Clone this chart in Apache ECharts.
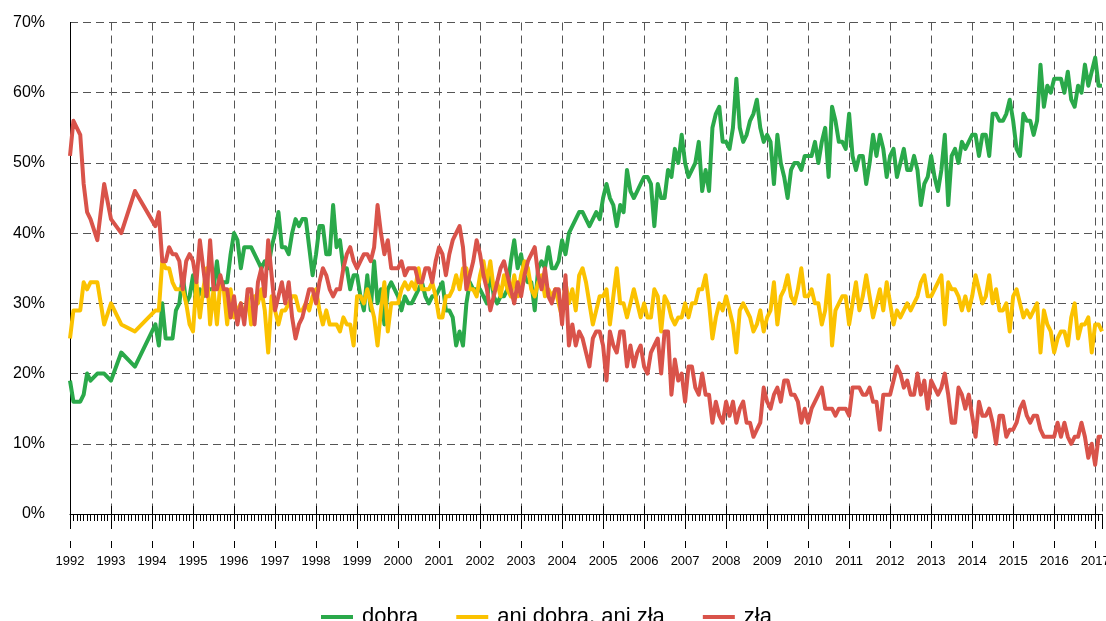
<!DOCTYPE html>
<html>
<head>
<meta charset="utf-8">
<title>Ocena sytuacji</title>
<script src="https://cdn.jsdelivr.net/npm/echarts@6/dist/echarts.min.js"></script>
<style>
  html, body { margin: 0; padding: 0; background: #fff; }
  #chart { width: 1106px; height: 621px; }
</style>
</head>
<body>
<div id="chart"></div>
<script>
  // x = months counted from January 1992
  const FIRST_YEAR = 1992
  const LAST_MONTH = 302

  // before 1994 the surveys were not monthly
  const earlyMonths = [0, 1, 3, 4, 5, 6, 8, 10, 12, 15, 19]
  const dobraEarly = [19, 16, 16, 17, 20, 19, 20, 20, 19, 23, 21]
  const aniEarly = [25, 29, 29, 33, 32, 33, 33, 27, 30, 27, 26]
  const zlaEarly = [51, 56, 54, 47, 43, 42, 39, 47, 42, 40, 46]

  // monthly from February 1994 (month 25), one row per year
  const monthlyStart = 25
  const dobraMonthly = [
    27, 24, 30, 25, 25, 25, 29, 30, 34, 30, 31,
    34, 30, 32, 31, 32, 32, 32, 36, 32, 33, 33, 37,
    40, 39, 35, 38, 38, 38, 37, 36, 35, 36, 35, 38,
    40, 43, 38, 38, 37, 40, 42, 41, 42, 42, 38, 34,
    37, 41, 41, 37, 37, 44, 38, 39, 35, 35, 32, 34,
    34, 31, 29, 34, 29, 36, 30, 32, 27, 32, 33, 32,
    31, 29, 31, 30, 30, 31, 32, 33, 31, 30, 31, 31,
    32, 33, 29, 29, 28, 24, 26, 24, 30, 33, 32, 32,
    32, 31, 30, 35, 31, 30, 31, 31, 32, 36, 39, 35,
    37, 34, 33, 33, 29, 35, 36, 35, 38, 35, 35, 36,
    39, 37, 40, 41, 42, 43, 43, 42, 41, 42, 43, 42,
    45, 47, 45, 44, 41, 44, 43, 49, 46, 45, 46, 47,
    48, 48, 47, 41, 47, 45, 45, 49, 48, 52, 50, 54,
    50, 48, 49, 50, 53, 46, 49, 46, 55, 57, 58, 53,
    53, 52, 55, 62, 55, 53, 54, 56, 57, 59, 55, 53,
    54, 53, 47, 54, 50, 48, 45, 49, 50, 50, 49, 51,
    51, 51, 53, 50, 53, 55, 48, 58, 56, 53, 53, 52,
    57, 51, 49, 51, 51, 47, 50, 54, 51, 54, 52, 48,
    51, 52, 48, 50, 52, 49, 49, 51, 49, 44, 47, 48,
    51, 48, 46, 49, 54, 44, 51, 52, 50, 53, 52, 53,
    54, 54, 51, 54, 54, 51, 57, 57, 56, 56, 57, 59,
    56, 52, 51, 57, 56, 56, 54, 56, 64, 58, 61, 60,
    62, 62, 62, 60, 63, 59, 58, 61, 60, 64, 61, 63,
    65, 61, 61
  ]
  const aniMonthly = [
    29, 29, 36, 35, 35, 33, 32, 32, 32, 30, 27,
    26, 33, 28, 32, 35, 27, 32, 27, 33, 32, 27, 32,
    28, 29, 30, 28, 31, 27, 31, 30, 32, 29, 23, 31,
    29, 27, 29, 29, 30, 31, 31, 29, 29, 30, 29, 31,
    32, 29, 27, 29, 27, 27, 27, 26, 28, 27, 27, 24,
    31, 31, 30, 32, 30, 28, 24, 29, 33, 26, 30, 30,
    30, 32, 33, 32, 33, 32, 35, 32, 32, 32, 33, 31,
    28, 28, 31, 31, 32, 34, 32, 35, 35, 32, 32, 31,
    34, 36, 33, 36, 32, 33, 31, 34, 32, 31, 34, 31,
    34, 36, 35, 32, 31, 33, 34, 31, 32, 31, 32, 30,
    28, 33, 30, 32, 29, 34, 35, 33, 30, 27, 29, 31,
    31, 32, 27, 31, 35, 30, 30, 28, 30, 32, 30, 28,
    30, 28, 28, 32, 31, 26, 31, 30, 28, 27, 28, 28,
    30, 28, 30, 30, 32, 32, 34, 30, 25, 28, 30, 29,
    31, 29, 27, 23, 29, 30, 29, 28, 26, 27, 29, 26,
    28, 29, 33, 27, 31, 32, 34, 31, 30, 32, 35, 31,
    31, 32, 30, 30, 27, 29, 34, 24, 29, 30, 31, 31,
    27, 30, 33, 29, 31, 34, 31, 28, 30, 32, 29, 33,
    30, 27, 29, 28, 29, 30, 29, 30, 31, 33, 34, 31,
    31, 32, 33, 34, 27, 33, 32, 32, 31, 29, 31, 29,
    31, 34, 32, 30, 31, 34, 30, 32, 29, 29, 30, 26,
    31, 32, 30, 28, 29, 28, 29, 30, 23, 29, 27, 26,
    23, 25, 26, 26, 24, 28, 30, 25, 27, 27, 28, 23,
    27, 27, 26
  ]
  const zlaMonthly = [
    41, 43, 36, 36, 38, 37, 37, 36, 32, 36, 37,
    36, 33, 39, 35, 31, 39, 32, 32, 34, 32, 32, 28,
    31, 27, 30, 27, 32, 32, 27, 33, 35, 31, 39, 34,
    29, 31, 33, 30, 33, 28, 25, 27, 28, 30, 32, 32,
    30, 33, 35, 34, 32, 31, 32, 32, 35, 37, 38, 36,
    35, 36, 37, 37, 36, 38, 44, 40, 37, 39, 35, 35,
    35, 36, 34, 35, 35, 35, 33, 33, 35, 35, 33, 36,
    38, 37, 34, 37, 39, 40, 41, 38, 32, 34, 36, 39,
    37, 34, 32, 29, 31, 33, 35, 36, 34, 32, 30, 33,
    31, 34, 36, 37, 38, 34, 32, 35, 31, 30, 32, 32,
    27, 34, 24, 27, 24, 26, 25, 23, 21, 25, 26, 26,
    24, 19, 26, 24, 23, 26, 26, 21, 24, 21, 23, 24,
    21, 20, 23, 24, 25, 20, 26, 26, 17, 22, 19, 20,
    16, 21, 21, 18, 17, 20, 17, 17, 13, 16, 14, 13,
    16, 14, 16, 13, 15, 16, 13, 13, 11, 12, 13, 18,
    16, 15, 17, 18, 16, 19, 19, 17, 17, 16, 13, 15,
    13, 15, 16, 17, 18, 15, 15, 15, 14, 15, 15, 15,
    14, 18, 18, 18, 17, 17, 18, 16, 16, 12, 17, 17,
    17, 19, 21, 20, 18, 19, 17, 17, 20, 17, 19, 15,
    19, 18, 17, 18, 20, 17, 13, 13, 18, 17, 15, 17,
    14, 11, 16, 14, 14, 15, 13, 10, 14, 14, 11, 12,
    12, 13, 15, 16, 14, 13, 14, 14, 12, 11, 11, 11,
    11, 13, 11, 13, 11, 10, 11, 11, 13, 11, 8, 10,
    7, 11, 11
  ]

  const seriesNames = ['dobra', 'ani dobra, ani zła', 'zła']
  const seriesColors = ['#2aa94a', '#fbc200', '#d9534a']

  const yearTicks = []
  for (let m = 0; m <= 300; m += 12) yearTicks.push(m)

  function toPoints(early, monthly) {
    const pts = earlyMonths.map((m, i) => [m, early[i]])
    monthly.forEach((v, i) => pts.push([monthlyStart + i, v]))
    return pts
  }
  const seriesData = [
    toPoints(dobraEarly, dobraMonthly),
    toPoints(aniEarly, aniMonthly),
    toPoints(zlaEarly, zlaMonthly)
  ]

  const font = '"Liberation Sans", Arial, sans-serif'
  const gridLine = { color: '#555', width: 1, type: [8, 5] }
  const black = { color: '#000', width: 1 }
  const hiddenLine = { show: true, onZero: false, lineStyle: { color: 'rgba(0,0,0,0)', width: 1 } }

  const baseX = {
    type: 'value',
    position: 'bottom',
    min: 0,
    max: LAST_MONTH,
    interval: 12,
    axisLine: hiddenLine,
    axisTick: { show: false },
    axisLabel: { show: false },
    splitLine: { show: false }
  }

  // short year marks: one piece above the axis line, one above the year label
  function renderYearMarks(params, api) {
    const p = api.coord([api.value(0), 0])
    const x = Math.round(p[0]) + 0.5
    const y = p[1]
    const style = { stroke: '#000', lineWidth: 1 }
    return {
      type: 'group',
      children: [
        { type: 'line', shape: { x1: x, y1: y - 8, x2: x, y2: y }, style: style },
        { type: 'line', shape: { x1: x, y1: y + 27, x2: x, y2: y + 34 }, style: style }
      ]
    }
  }

  const myChart = echarts.init(document.getElementById('chart'), null, { renderer: 'canvas' })
  const option = {
    animation: false,
    backgroundColor: '#fff',
    grid: { left: 70, right: 4, top: 22.5, bottom: 107, outerBoundsMode: 'none', containLabel: false },
    xAxis: [
      // main axis: line, year ticks, vertical dashed lines
      Object.assign({}, baseX, {
        axisLine: { show: true, onZero: false, lineStyle: black },
        axisTick: { show: true, length: 15, lineStyle: black },
        splitLine: { show: true, lineStyle: gridLine }
      }),
      // month ticks
      Object.assign({}, baseX, {
        interval: 1,
        axisTick: { show: true, length: 7, lineStyle: black }
      }),
      // year labels
      Object.assign({}, baseX, {
        offset: 27,
        axisLabel: {
          show: true,
          customValues: yearTicks,
          formatter: (v) => String(FIRST_YEAR + Math.round(v / 12)),
          fontSize: 13,
          fontFamily: font,
          color: '#000',
          margin: 14
        }
      })
    ],
    yAxis: [
      {
        type: 'value',
        min: 0,
        max: 70,
        interval: 10,
        axisLine: { show: true, lineStyle: black },
        axisTick: { show: false },
        axisLabel: {
          formatter: '{value}%',
          fontSize: 16,
          fontFamily: font,
          color: '#000',
          margin: 25
        },
        splitLine: { show: true, lineStyle: gridLine }
      },
      {
        type: 'value',
        position: 'right',
        min: 0,
        max: 70,
        axisLine: { show: true, lineStyle: black },
        axisTick: { show: false },
        axisLabel: { show: false },
        splitLine: { show: false }
      }
    ],
    legend: {
      data: seriesNames,
      left: 316,
      top: 601,
      icon: 'rect',
      itemWidth: 32,
      itemHeight: 4,
      itemGap: 38,
      textStyle: { fontSize: 22, fontFamily: font, color: '#000', padding: [0, 0, 0, 4] }
    },
    series: seriesNames.map((name, i) => ({
      name: name,
      type: 'line',
      xAxisIndex: 0,
      yAxisIndex: 0,
      data: seriesData[i],
      symbol: 'none',
      smooth: false,
      color: seriesColors[i],
      lineStyle: { color: seriesColors[i], width: 4, join: 'round' }
    })).concat([{
      name: 'yearMarks',
      type: 'custom',
      xAxisIndex: 0,
      yAxisIndex: 0,
      silent: true,
      clip: false,
      z: 1,
      renderItem: renderYearMarks,
      data: yearTicks.map((m) => [m])
    }])
  }
  myChart.setOption(option)
</script>
</body>
</html>
